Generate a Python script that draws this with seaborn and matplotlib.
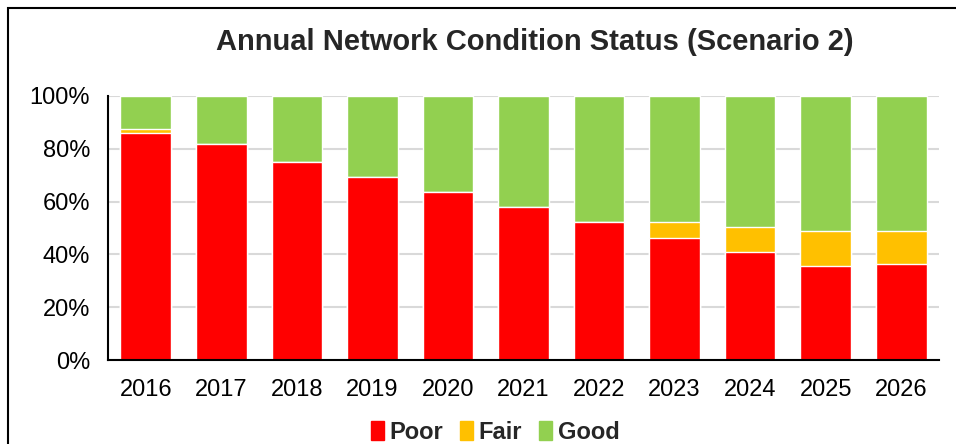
import pandas as pd
import seaborn as sns
import matplotlib.pyplot as plt
from matplotlib.patches import Patch, Rectangle

years = ['2016', '2017', '2018', '2019', '2020', '2021', '2022', '2023', '2024', '2025', '2026']
poor = [86.1, 81.9, 75.1, 69.3, 63.5, 58.1, 52.4, 46.3, 41.0, 35.7, 36.2]
fair = [1.3, 0.0, 0.0, 0.0, 0.0, 0.0, 0.0, 5.8, 9.3, 13.0, 12.5]
good = [12.6, 18.1, 24.9, 30.7, 36.5, 41.9, 47.6, 47.9, 49.7, 51.3, 51.3]

colors = {'Poor': '#FF0000', 'Fair': '#FFC000', 'Good': '#92D050'}

df = pd.DataFrame({'year': years, 'Poor': poor, 'Fair': fair, 'Good': good})
# cumulative heights, drawn back to front
df['top_fair'] = df['Poor'] + df['Fair']
df['top_good'] = df['top_fair'] + df['Good']

sns.set_style('white')
plt.rcParams['font.family'] = ['Liberation Sans', 'DejaVu Sans']

fig = plt.figure(figsize=(9.56, 4.44), dpi=100)
ax = fig.add_axes([108/956, 84/444, 831/956, 264/444])

w = 0.67
sns.barplot(data=df, x='year', y='top_good', color=colors['Good'], width=w, saturation=1, ax=ax, zorder=2)
sns.barplot(data=df, x='year', y='top_fair', color=colors['Fair'], width=w, saturation=1, ax=ax, zorder=3)
sns.barplot(data=df, x='year', y='Poor', color=colors['Poor'], width=w, saturation=1, ax=ax, zorder=4)

ax.set_ylim(0, 100)
ax.set_xlim(-0.5, 10.5)
ax.set_yticks([0, 20, 40, 60, 80, 100])
ax.set_yticklabels([f'{v}%' for v in [0, 20, 40, 60, 80, 100]])
ax.set_xlabel('')
ax.set_ylabel('')
ax.tick_params(axis='both', length=0, labelsize=17, colors='black')
ax.tick_params(axis='x', pad=14)
ax.tick_params(axis='y', pad=13)

ax.yaxis.grid(True, color='#D9D9D9', lw=1.5, zorder=0)
ax.set_axisbelow(True)
for s in ['top', 'right']:
    ax.spines[s].set_visible(False)
for s in ['left', 'bottom']:
    ax.spines[s].set_color('black')
    ax.spines[s].set_linewidth(1.5)
    ax.spines[s].set_zorder(5)

fig.text(535/956, 1 - 42/444, 'Annual Network Condition Status (Scenario 2)',
         ha='center', va='center', fontsize=21, fontweight='bold')

handles = [Patch(color=colors[k], label=k) for k in ['Poor', 'Fair', 'Good']]
leg = fig.legend(handles=handles, loc='center', bbox_to_anchor=(495/956, 12/444), ncol=3,
                 frameon=False, handlelength=0.55, handleheight=0.9, handletextpad=0.25,
                 columnspacing=0.7, prop={'size': 17, 'weight': 'bold'})

fig.patches.append(Rectangle((8/956, -0.2), 1.2, 1.2 - 8/444, transform=fig.transFigure,
                             fill=False, edgecolor='black', lw=1.5))

fig.savefig('out.png', dpi=100)
